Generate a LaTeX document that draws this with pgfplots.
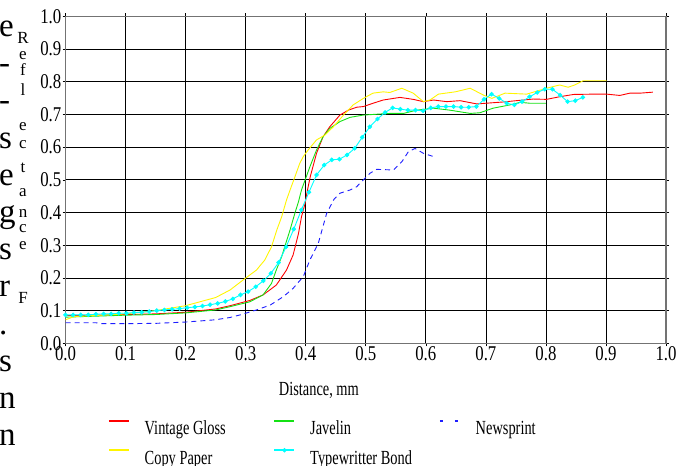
\documentclass[border=0pt]{standalone}
\usepackage{fontspec}
\setmainfont{Liberation Serif}
\newfontfamily\cfont[FakeStretch=0.72]{Liberation Serif}
\newfontfamily\tfont[FakeStretch=0.8]{Liberation Serif}
\usepackage{pgfplots}
\pgfplotsset{compat=1.18}
\definecolor{cRed}{RGB}{255,0,0}
\definecolor{cGreen}{RGB}{20,225,20}
\definecolor{cYellow}{RGB}{255,245,0}
\definecolor{cCyan}{RGB}{0,255,255}
\definecolor{cBlue}{RGB}{30,30,255}
\pgfplotsset{
  legline/.style={legend image code/.code={\draw[color=#1, line width=1.5bp, solid] (0bp,10bp) -- (20bp,10bp);}},
  newsleg/.style={legend image code/.code={\draw[color=cBlue, line width=1.5bp, dash pattern=on 3bp off 12bp] (0bp,10bp) -- (20bp,10bp);}},
  markleg/.style={legend image code/.code={\draw[color=cCyan, line width=1.5bp] (0bp,10bp) -- (20bp,10bp); \fill[cCyan] (10bp,10bp) circle (1.8bp);}},
}
\begin{document}
\begin{tikzpicture}
\path[use as bounding box] (0,0) rectangle (679bp,-466bp);
\clip (0,0) rectangle (679bp,-466bp);
% stray text at the left edge
\begin{scope}[every node/.style={anchor=base west, inner sep=0pt, font=\fontsize{33bp}{33bp}\selectfont}]
\node at (-1bp,-36bp) {e};
\node at (-1bp,-73bp) {-};
\node at (-1bp,-110bp) {-};
\node at (-1bp,-148bp) {s};
\node at (-1bp,-185bp) {e};
\node at (-1bp,-222bp) {g};
\node at (-1bp,-259bp) {s};
\node at (-1bp,-296bp) {r};
\node at (-1bp,-334bp) {.};
\node at (-1bp,-371bp) {s};
\node at (-1bp,-408bp) {n};
\node at (-1bp,-445bp) {n};
\end{scope}
% vertical axis title
\begin{scope}[every node/.style={anchor=center, inner sep=0pt, font=\fontsize{17bp}{17bp}\selectfont}]
\node at (23bp,-38bp) {R};
\node at (23bp,-56bp) {e};
\node at (23bp,-70bp) {f};
\node at (23bp,-90bp) {l};
\node at (23bp,-127bp) {e};
\node at (23bp,-145bp) {c};
\node at (23bp,-168bp) {t};
\node at (23bp,-193bp) {a};
\node at (23bp,-213bp) {n};
\node at (23bp,-229bp) {c};
\node at (23bp,-246bp) {e};
\node at (23bp,-298bp) {F};
\end{scope}
\begin{axis}[
  at={(65.5bp,-343.3bp)}, anchor=south west,
  scale only axis, width=600.5bp, height=327bp,
  xmin=0, xmax=1, ymin=0, ymax=1,
  xtick={0,0.1,0.2,0.3,0.4,0.5,0.6,0.7,0.8,0.9,1},
  ytick={0,0.1,0.2,0.3,0.4,0.5,0.6,0.7,0.8,0.9,1},
  grid=major, major grid style={black, line width=0.7bp},
  axis line style={black!55, line width=1.2bp},
  tick align=outside, major tick length=3bp, tick style={black, line width=0.6bp},
  /pgf/number format/assume math mode=true,
  /pgf/number format/.cd, fixed, fixed zerofill, precision=1, /pgfplots/.cd,
  ticklabel style={font=\tfont\fontsize{21bp}{21bp}\selectfont},
  yticklabel style={inner sep=1bp},
  xticklabel style={inner sep=1bp, yshift=1bp},
  xlabel={Distance, mm},
  xlabel style={at={(axis description cs:0.422,-0.1428)}, anchor=center, inner sep=0pt, font=\cfont\fontsize{20bp}{20bp}\selectfont},
  legend columns=3,
  legend cell align=left,
  legend style={at={(axis description cs:0.0708,-0.2346)}, anchor=north west, draw=none, fill=none, inner sep=0pt, row sep=10bp,
    font=\cfont\fontsize{20bp}{20bp}\selectfont,
    nodes={inner sep=0pt, text height=11bp, text depth=3bp},
    /tikz/every odd column/.append style={column sep=15bp}},
]
% Vintage Gloss
\addplot[cRed, line width=0.9bp, mark=none, legline=cRed] coordinates {
(0,0.085)(0.05,0.086)(0.1,0.088)(0.15,0.09)(0.2,0.095)(0.25,0.105)(0.274,0.115)(0.307,0.131)(0.329,0.148)(0.351,0.178)(0.368,0.224)(0.379,0.27)(0.388,0.336)(0.393,0.387)(0.399,0.428)(0.403,0.469)(0.4075,0.509)(0.418,0.581)(0.429,0.632)(0.44,0.662)(0.457,0.698)(0.471,0.713)(0.485,0.722)(0.496,0.724)(0.512,0.734)(0.529,0.744)(0.557,0.752)(0.579,0.746)(0.596,0.739)(0.613,0.744)(0.635,0.739)(0.657,0.742)(0.685,0.732)(0.699,0.734)(0.729,0.738)(0.751,0.742)(0.779,0.747)(0.801,0.746)(0.823,0.754)(0.846,0.761)(0.879,0.762)(0.901,0.762)(0.923,0.758)(0.94,0.765)(0.957,0.765)(0.978,0.768)
};
\addlegendentry{\makebox[129bp][l]{Vintage Gloss}}
% Javelin
\addplot[cGreen, line width=0.9bp, mark=none, legline=cGreen] coordinates {
(0,0.08)(0.05,0.083)(0.1,0.086)(0.15,0.088)(0.2,0.093)(0.25,0.102)(0.274,0.112)(0.307,0.127)(0.329,0.148)(0.343,0.183)(0.351,0.224)(0.36,0.265)(0.365,0.295)(0.374,0.347)(0.382,0.398)(0.388,0.433)(0.393,0.469)(0.407,0.54)(0.418,0.591)(0.429,0.632)(0.44,0.657)(0.457,0.678)(0.474,0.691)(0.496,0.698)(0.54,0.703)(0.563,0.703)(0.585,0.713)(0.613,0.719)(0.64,0.713)(0.674,0.703)(0.69,0.705)(0.712,0.719)(0.74,0.729)(0.757,0.737)(0.774,0.734)(0.8,0.734)
};
\addlegendentry{\makebox[129bp][l]{Javelin}}
% Newsprint
\addplot[cBlue, line width=0.9bp, mark=none, dash pattern=on 5bp off 4bp, newsleg] coordinates {
(0,0.063)(0.05,0.063)(0.06,0.06)(0.1,0.06)(0.15,0.061)(0.2,0.065)(0.25,0.072)(0.274,0.079)(0.291,0.087)(0.318,0.102)(0.341,0.117)(0.363,0.143)(0.379,0.168)(0.396,0.204)(0.407,0.255)(0.421,0.306)(0.435,0.398)(0.447,0.44)(0.457,0.459)(0.474,0.469)(0.485,0.479)(0.496,0.5)(0.507,0.52)(0.518,0.532)(0.546,0.53)(0.56,0.555)(0.571,0.586)(0.582,0.596)(0.596,0.581)(0.613,0.571)
};
\addlegendentry{Newsprint}
% Copy Paper
\addplot[cYellow, line width=0.9bp, mark=none, legline=cYellow] coordinates {
(0,0.072)(0.015,0.082)(0.05,0.085)(0.1,0.09)(0.15,0.1)(0.2,0.115)(0.25,0.14)(0.274,0.163)(0.296,0.194)(0.318,0.224)(0.332,0.255)(0.343,0.295)(0.352,0.347)(0.36,0.387)(0.368,0.438)(0.374,0.469)(0.382,0.509)(0.39,0.55)(0.396,0.571)(0.404,0.591)(0.418,0.622)(0.432,0.637)(0.446,0.662)(0.463,0.698)(0.479,0.729)(0.496,0.749)(0.512,0.765)(0.529,0.769)(0.54,0.767)(0.56,0.78)(0.579,0.765)(0.596,0.739)(0.607,0.744)(0.621,0.762)(0.649,0.769)(0.674,0.78)(0.696,0.759)(0.71,0.749)(0.732,0.765)(0.768,0.762)(0.801,0.78)(0.823,0.79)(0.837,0.783)(0.848,0.79)(0.862,0.803)(0.901,0.803)
};
\addlegendentry{\makebox[129bp][l]{Copy Paper}}
% Typewritter Bond
\addplot[cCyan, line width=0.9bp, mark=*, mark size=1.8bp, mark options={solid, fill=cCyan, draw=cCyan}, markleg] coordinates {
(0.0000,0.087)(0.0127,0.087)(0.0253,0.087)(0.0380,0.087)(0.0507,0.089)(0.0634,0.090)(0.0760,0.090)(0.0887,0.092)(0.1014,0.092)(0.1140,0.094)(0.1267,0.095)(0.1394,0.097)(0.1520,0.100)(0.1647,0.102)(0.1774,0.104)(0.1901,0.106)(0.2027,0.109)(0.2154,0.111)(0.2281,0.114)(0.2407,0.118)(0.2534,0.122)(0.2661,0.128)(0.2787,0.136)(0.2914,0.148)(0.3041,0.158)(0.3168,0.173)(0.3294,0.191)(0.3421,0.214)(0.3548,0.247)(0.3674,0.295)(0.3801,0.349)(0.3928,0.408)(0.4054,0.462)(0.4181,0.515)(0.4308,0.545)(0.4435,0.561)(0.4561,0.563)(0.4688,0.576)(0.4815,0.596)(0.4941,0.630)(0.5068,0.662)(0.5195,0.686)(0.5321,0.706)(0.5448,0.720)(0.5575,0.716)(0.5702,0.713)(0.5828,0.713)(0.5955,0.711)(0.6082,0.720)(0.6208,0.724)(0.6335,0.724)(0.6462,0.724)(0.6588,0.722)(0.6715,0.722)(0.6842,0.724)(0.6969,0.746)(0.7095,0.762)(0.7222,0.749)(0.7349,0.734)(0.7475,0.729)(0.7602,0.739)(0.7729,0.754)(0.7855,0.767)(0.7982,0.777)(0.8109,0.777)(0.8236,0.759)(0.8362,0.739)(0.8489,0.742)(0.8616,0.752)
};
\addlegendentry{Typewritter Bond}
\end{axis}
\end{tikzpicture}
\end{document}
